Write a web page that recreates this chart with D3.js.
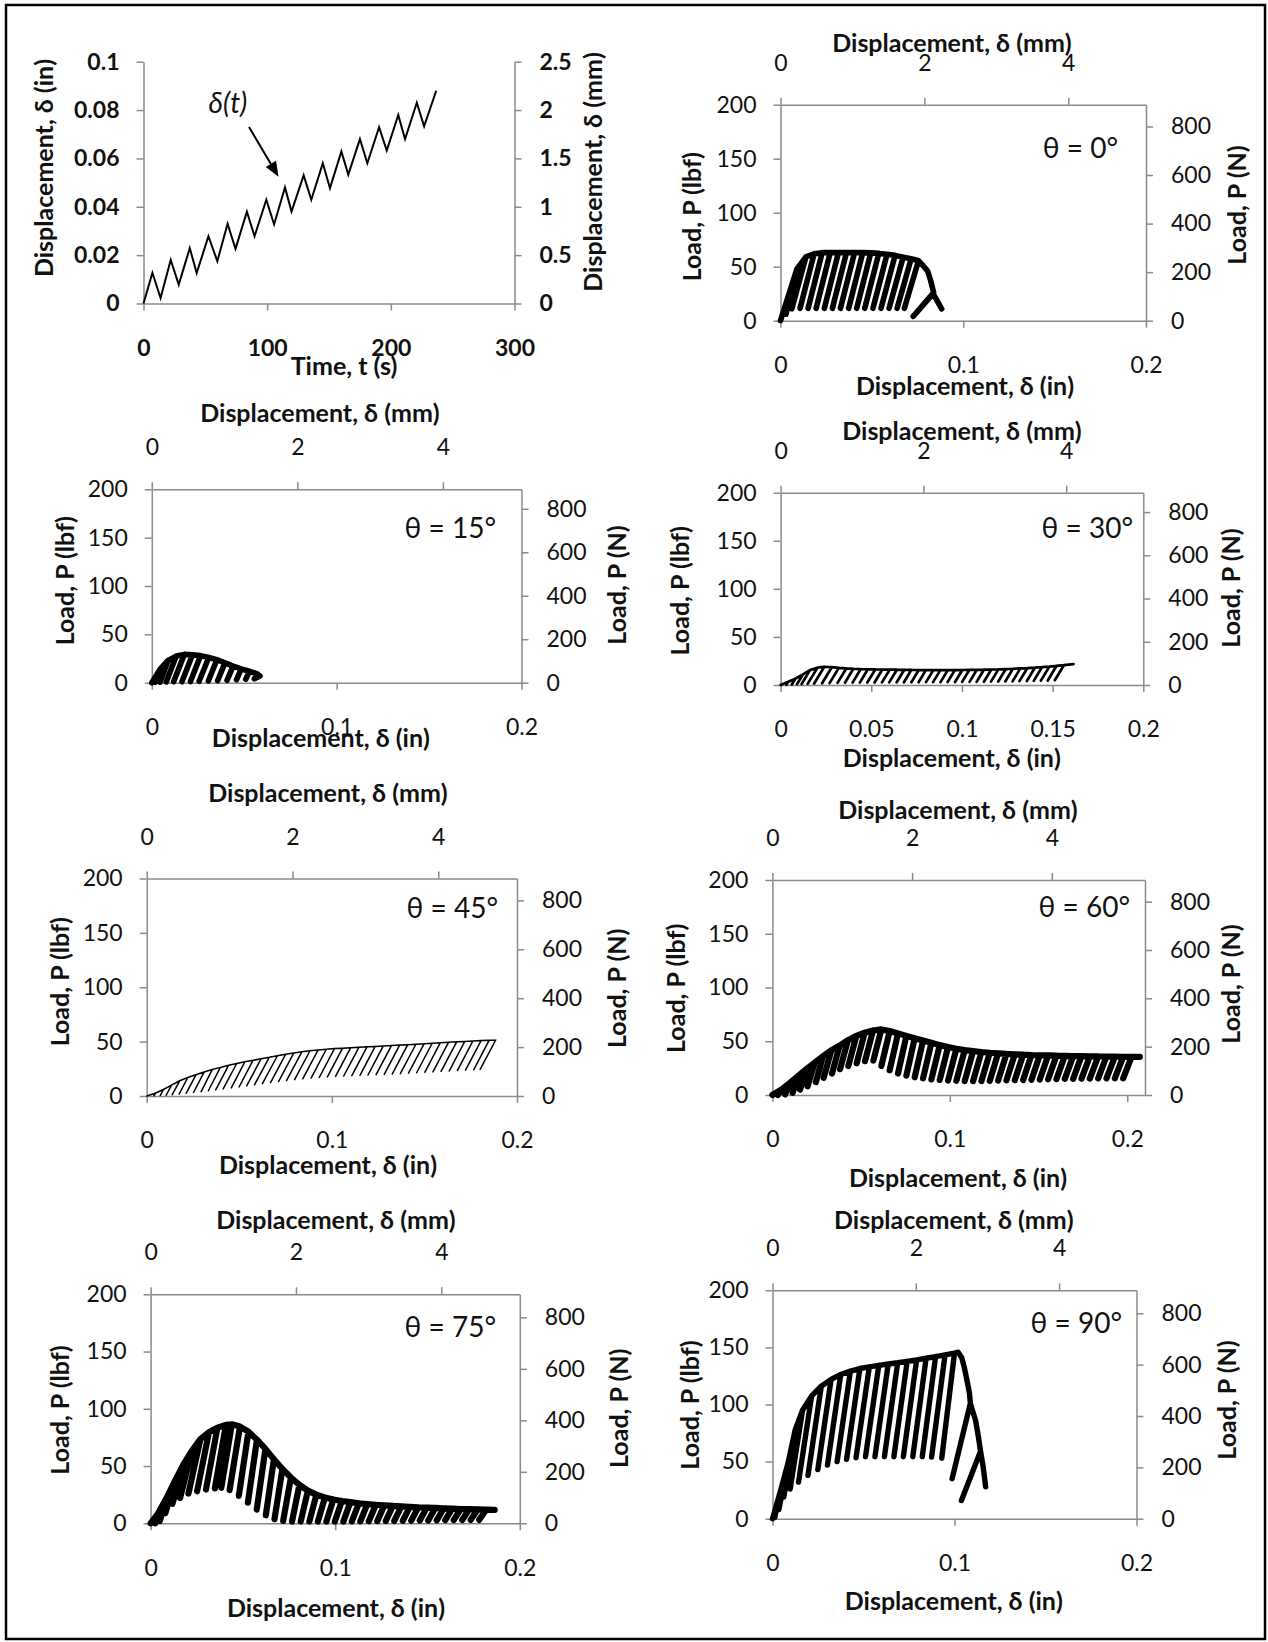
<!DOCTYPE html>
<html>
<head>
<meta charset="utf-8">
<script src="https://cdn.jsdelivr.net/npm/d3@7"></script>
<style>
  html, body { margin: 0; padding: 0; background: #fff; }
  svg { display: block; }
</style>
</head>
<body>
<svg id="fig" width="1268" height="1642"></svg>
<script>
// ---------------- data ----------------
// Displacement history of the actuator: time (s) and displacement (in)
const timeS  = [0, 7.2, 13.8, 22, 28.5, 37.4, 43, 52.5, 59.7, 68, 74.4, 83.6, 89.8, 99.3, 105.6, 114.4,
                119.7, 129.5, 135.7, 145, 150.8, 160, 165.6, 175, 181, 190.5, 196.7, 206, 211.5, 221, 226.9, 236.7];
const dispIn = [0, 0.0127, 0.0023, 0.018, 0.0078, 0.0229, 0.0126, 0.0278, 0.0175, 0.033, 0.0226, 0.038, 0.0278, 0.0429, 0.0327, 0.048,
                0.038, 0.053, 0.0429, 0.058, 0.0477, 0.0629, 0.0533, 0.068, 0.058, 0.0729, 0.0633, 0.078, 0.068, 0.083, 0.0733, 0.088];

// Load-displacement cycles, [displacement (in), load (lbf)]
// peaks: top of each loading cycle; lows: end of each unloading; tail: remaining path
const peaks0 = [[0.0090,48],[0.0139,59],[0.0184,62],[0.0228,63],[0.0272,63],[0.0317,63],[0.0361,63],[0.0405,63],
                [0.0450,63],[0.0494,62.8],[0.0538,62.3],[0.0583,61.5],[0.0627,60.5],[0.0671,58.8],[0.0715,57.3],[0.0755,55.5]];
const lows0  = [[0.0030,6],[0.0062,11],[0.0107,11.5],[0.0151,11.5],[0.0195,11.5],[0.0240,11.5],[0.0284,11.5],[0.0328,11.5],
                [0.0373,11.5],[0.0417,11.5],[0.0461,11.5],[0.0506,11.5],[0.0550,11.5],[0.0594,11.5],[0.0638,11.5],[0.0678,11.5]];
const tail0  = [[0.0785,50],[0.0805,46],[0.0822,37],[0.0838,26],[0.0726,4],[0.0835,25],[0.0882,11]];

const peaks15 = [[0.0045,14],[0.0088,23],[0.0132,27.5],[0.0176,29.3],[0.0220,28.8],[0.0264,28],[0.0308,26],[0.0352,23.8],
                 [0.0396,20.5],[0.0440,17.2],[0.0484,14.2],[0.0528,11.8]];
const lows15  = [[0.0018,0.5],[0.0044,0.5],[0.0078,0.8],[0.0118,1],[0.0163,1],[0.0209,1.2],[0.0256,1.5],[0.0306,1.8],
                 [0.0356,2],[0.0407,2.5],[0.0458,3],[0.0508,3.5]];
const tail15  = [[0.0572,9],[0.0555,4],[0.0585,7]];

const peaks30 = [[0.0042,3.5],[0.0081,6.5],[0.0123,11],[0.0162,15.5],[0.0203,18],[0.0241,19],[0.0282,18.5],[0.0321,17.8],
                 [0.0362,17.2],[0.0401,16.9],[0.0442,16.6],[0.0481,16.4],[0.0522,16.2],[0.0561,16.1],[0.0602,16],[0.0641,15.9],
                 [0.0682,15.8],[0.0721,15.7],[0.0762,15.6],[0.0801,15.5],[0.0842,15.5],[0.0881,15.5],[0.0922,15.5],[0.0961,15.5],
                 [0.1002,15.6],[0.1041,15.7],[0.1082,15.8],[0.1121,15.9],[0.1162,16.1],[0.1201,16.3],[0.1242,16.6],[0.1281,16.9],
                 [0.1322,17.3],[0.1361,17.6],[0.1402,18],[0.1441,18.5],[0.1482,19.1],[0.1521,19.8],[0.1562,20.6]];
const lows30  = [[0.0032,0.3],[0.0062,0.5],[0.0090,0.8],[0.0116,1],[0.0149,1.2],[0.0185,1.5],[0.0229,1.8],[0.0270,2],
                 [0.0314,2.2],[0.0355,2.4],[0.0397,2.5],[0.0437,2.5],[0.0478,2.6],[0.0518,2.6],[0.0559,2.7],[0.0599,2.7],
                 [0.0640,2.8],[0.0680,2.8],[0.0721,2.9],[0.0761,2.9],[0.0802,3],[0.0841,3],[0.0882,3],[0.0921,3.1],
                 [0.0962,3.1],[0.1001,3.2],[0.1042,3.2],[0.1081,3.3],[0.1121,3.4],[0.1160,3.5],[0.1200,3.6],[0.1239,3.7],
                 [0.1279,3.8],[0.1317,4],[0.1358,4.1],[0.1396,4.3],[0.1435,4.5],[0.1473,4.7],[0.1512,5]];
const tail30  = [[0.1615,21.7]];

const peaks45 = [[0.0046,2.5],[0.0090,6],[0.0134,10],[0.0178,14],[0.0222,17],[0.0266,19.5],[0.0310,22],[0.0354,24.3],
                 [0.0398,26.3],[0.0442,28.2],[0.0486,29.9],[0.0530,31.4],[0.0574,32.8],[0.0618,34.3],[0.0662,35.6],[0.0706,37],
                 [0.0750,38.3],[0.0794,39.5],[0.0838,40.6],[0.0882,41.6],[0.0926,42.4],[0.0970,43],[0.1014,43.6],[0.1058,44],
                 [0.1102,44.4],[0.1146,44.8],[0.1190,45.2],[0.1234,45.6],[0.1278,46],[0.1322,46.4],[0.1366,46.8],[0.1410,47.2],
                 [0.1454,47.6],[0.1498,48],[0.1542,48.5],[0.1586,49],[0.1630,49.4],[0.1674,49.8],[0.1718,50.2],[0.1762,50.6],
                 [0.1806,51],[0.1850,51.3],[0.1885,51.5]];
const lows45  = [[0.0039,0.2],[0.0073,0.4],[0.0105,0.7],[0.0138,1.2],[0.0175,1.8],[0.0213,2.5],[0.0253,3.2],[0.0294,4],
                 [0.0333,4.8],[0.0373,5.6],[0.0413,6.5],[0.0457,7.4],[0.0499,8.3],[0.0540,9.3],[0.0582,10.3],[0.0625,11.3],
                 [0.0669,12.3],[0.0712,13.3],[0.0755,14.2],[0.0799,15],[0.0843,15.8],[0.0888,16.5],[0.0932,17],[0.0976,17.5],
                 [0.1020,18],[0.1064,18.4],[0.1108,18.7],[0.1152,19],[0.1195,19.3],[0.1239,19.6],[0.1283,19.9],[0.1326,20.2],
                 [0.1370,20.6],[0.1414,21],[0.1458,21.4],[0.1502,21.8],[0.1546,22.2],[0.1590,22.6],[0.1634,23],[0.1678,23.4],
                 [0.1722,23.8],[0.1766,24.1],[0.1801,24.4]];
const tail45  = [];

const peaks60 = [[0.0050,5],[0.0097,11],[0.0144,17.5],[0.0191,24],[0.0238,30],[0.0285,36],[0.0332,41.5],[0.0379,46],
                 [0.0426,51],[0.0473,55],[0.0520,58],[0.0567,60],[0.0614,61],[0.0661,59.5],[0.0708,57.3],[0.0755,55],
                 [0.0802,52.8],[0.0849,50.6],[0.0896,48.5],[0.0943,46.4],[0.0990,44.6],[0.1037,43],[0.1084,41.8],[0.1131,40.8],
                 [0.1178,40],[0.1225,39.3],[0.1272,38.8],[0.1319,38.3],[0.1366,37.9],[0.1413,37.5],[0.1460,37.2],[0.1507,37],
                 [0.1554,36.8],[0.1601,36.6],[0.1648,36.4],[0.1695,36.2],[0.1742,36.1],[0.1789,36],[0.1836,35.9],[0.1883,35.8],
                 [0.1930,35.7],[0.1977,35.6],[0.2024,35.5]];
const lows60  = [[0.0030,0],[0.0072,0.5],[0.0114,2],[0.0156,5],[0.0198,8],[0.0245,12],[0.0289,16],[0.0336,20],
                 [0.0381,24],[0.0428,27],[0.0475,29.5],[0.0522,31.5],[0.0569,32],[0.0614,27],[0.0661,23],[0.0708,20],
                 [0.0755,18],[0.0802,16.5],[0.0849,15.5],[0.0896,14.5],[0.0943,14],[0.0990,13.5],[0.1037,13.2],[0.1084,13],
                 [0.1131,13],[0.1178,13],[0.1225,13.2],[0.1272,13.4],[0.1319,13.6],[0.1366,13.8],[0.1413,14],[0.1460,14.2],
                 [0.1507,14.4],[0.1554,14.6],[0.1601,14.8],[0.1648,15],[0.1695,15],[0.1742,15.2],[0.1789,15.2],[0.1836,15.4],
                 [0.1883,15.4],[0.1930,15.5],[0.1977,15.5]];
const tail60  = [[0.2071,35.5]];

const peaks75 = [[0.0040,8.5],[0.0086,22],[0.0132,37],[0.0178,51.5],[0.0224,63.5],[0.0270,73.5],[0.0316,79.5],[0.0362,83.5],
                 [0.0408,86],[0.0440,86.5],[0.0484,84.5],[0.0530,80],[0.0576,73],[0.0622,65],[0.0668,56],[0.0714,47.5],
                 [0.0760,40],[0.0806,33.5],[0.0852,28.5],[0.0898,25],[0.0944,22.5],[0.0990,20.8],[0.1036,19.5],[0.1082,18.5],
                 [0.1128,17.5],[0.1174,16.8],[0.1220,16.2],[0.1266,15.7],[0.1312,15.2],[0.1358,14.8],[0.1404,14.4],[0.1450,14],
                 [0.1496,13.7],[0.1542,13.4],[0.1588,13.1],[0.1634,12.8],[0.1680,12.5],[0.1726,12.3],[0.1772,12.1],[0.1818,11.9]];
const lows75  = [[0.0025,0],[0.0050,2],[0.0080,9],[0.0118,17],[0.0160,22],[0.0205,26],[0.0252,28],[0.0300,29.5],
                 [0.0348,30.5],[0.0383,31],[0.0428,29],[0.0478,24],[0.0527,18],[0.0575,12],[0.0624,7],[0.0671,3.5],
                 [0.0718,2],[0.0766,1.5],[0.0813,1.5],[0.0860,1.5],[0.0906,1.5],[0.0952,1.5],[0.0998,1.5],[0.1044,1.5],
                 [0.1090,1.6],[0.1136,1.7],[0.1182,1.8],[0.1228,1.9],[0.1274,2],[0.1320,2.1],[0.1366,2.2],[0.1412,2.3],
                 [0.1458,2.4],[0.1504,2.5],[0.1550,2.6],[0.1596,2.7],[0.1642,2.8],[0.1688,2.9],[0.1734,3],[0.1780,3]];
const tail75  = [[0.1864,11.7]];

const peaks90 = [[0.0045,25],[0.0085,48.5],[0.0125,78],[0.0165,95],[0.0215,107.5],[0.0268,116],[0.0322,122],[0.0375,126.3],
                 [0.0428,129.3],[0.0480,131.5],[0.0532,133],[0.0584,134.3],[0.0636,135.5],[0.0688,136.6],[0.0740,137.8],[0.0792,139],
                 [0.0844,140.5],[0.0896,142],[0.0948,143.5],[0.1000,145]];
const lows90  = [[0.0012,1],[0.0035,8],[0.0062,19],[0.0097,26],[0.0143,32],[0.0195,38],[0.0249,43],[0.0302,47],
                 [0.0355,50],[0.0407,52],[0.0459,53.4],[0.0511,54.3],[0.0563,54.3],[0.0615,54.3],[0.0667,54.3],[0.0719,54.3],
                 [0.0771,54.3],[0.0823,54.3],[0.0874,54],[0.0930,53]];
const tail90  = [[0.1020,145.8],[0.1040,141],[0.1053,133],[0.1070,120],[0.1082,110],[0.1087,101],[0.0987,35],[0.1087,101],
                 [0.1100,94],[0.1116,86],[0.1131,72],[0.1143,59],[0.1038,16],[0.1143,59],[0.1158,45],[0.1171,28]];

// tick values
const loadTicksLbf = [0, 50, 100, 150, 200];
const loadTicksN   = [0, 200, 400, 600, 800];
const dispTicksMm  = [0, 2, 4];
const timeTicks    = [0, 100, 200, 300];
const histTicksIn  = [0, 0.02, 0.04, 0.06, 0.08, 0.1];
const histTicksMm  = [0, 0.5, 1, 1.5, 2, 2.5];

// unit conversions
const LBF_TO_N = 4.44822;
const IN_TO_MM = 25.4;

// ---------------- drawing ----------------
const FONT = "Lato, 'Open Sans', sans-serif";
const AXIS = "#8a8a8a";
const INK = "#111";
const svg = d3.select("#fig");

svg.append("rect").attr("width", 1268).attr("height", 1642).attr("fill", "#fff");
svg.append("rect")
  .attr("x", 6).attr("y", 5).attr("width", 1259).attr("height", 1634)
  .attr("fill", "none").attr("stroke", "#000").attr("stroke-width", 2.5);

function styleAxis(g, size, weight) {
  g.attr("font-family", FONT).attr("font-size", size).attr("font-weight", weight);
  g.select(".domain").attr("stroke", AXIS).attr("stroke-width", 1.5);
  g.selectAll(".tick line").attr("stroke", AXIS).attr("stroke-width", 1.5);
  g.selectAll(".tick text").attr("fill", INK);
}

function hText(x, y, str, opts = {}) {
  return svg.append("text")
    .attr("x", x).attr("y", y).attr("dy", "0.35em")
    .attr("text-anchor", opts.anchor || "middle")
    .attr("font-family", FONT)
    .attr("font-size", opts.size || 25)
    .attr("font-weight", opts.weight || 700)
    .attr("font-style", opts.style || "normal")
    .attr("fill", INK)
    .text(str);
}

function vText(x, y, str, opts = {}) {
  return svg.append("text")
    .attr("transform", `translate(${x},${y}) rotate(-90)`)
    .attr("dy", "0.35em")
    .attr("text-anchor", "middle")
    .attr("font-family", FONT)
    .attr("font-size", opts.size || 25)
    .attr("font-weight", 700)
    .attr("fill", INK)
    .text(str);
}

const fmt = d => String(d);
const TICK = 7;

// ---- displacement history panel ----
(function () {
  const L = 143.5, R = 514.5, T = 61.7, B = 303.5;
  const x = d3.scaleLinear().domain([0, 300]).range([L, R]);
  const y = d3.scaleLinear().domain([0, 0.1]).range([B, T]);
  const yMm = d3.scaleLinear().domain([0, 2.5]).range([B, T]);

  const gx = svg.append("g").attr("transform", `translate(0,${B})`)
    .call(d3.axisBottom(x).tickValues(timeTicks).tickSize(TICK).tickSizeOuter(0).tickPadding(29).tickFormat(fmt));
  styleAxis(gx, 23, 700);
  const gl = svg.append("g").attr("transform", `translate(${L},0)`)
    .call(d3.axisLeft(y).tickValues(histTicksIn).tickSize(TICK).tickSizeOuter(0).tickPadding(17).tickFormat(fmt));
  styleAxis(gl, 23, 700);
  const gr = svg.append("g").attr("transform", `translate(${R},0)`)
    .call(d3.axisRight(yMm).tickValues(histTicksMm).tickSize(TICK).tickSizeOuter(0).tickPadding(18).tickFormat(fmt));
  styleAxis(gr, 23, 700);

  const pts = timeS.map((t, i) => [t, dispIn[i]]);
  svg.append("path")
    .attr("d", d3.line().x(d => x(d[0])).y(d => y(d[1]))(pts))
    .attr("fill", "none").attr("stroke", "#000").attr("stroke-width", 2)
    .attr("stroke-linejoin", "miter");

  // annotation
  hText(x(68.3), y(0.083), "δ(t)", { size: 28, weight: 400, style: "italic" });
  const a0 = [x(85.3), y(0.073)], a1 = [x(109.2), y(0.0524)];
  const ang = Math.atan2(a1[1] - a0[1], a1[0] - a0[0]);
  const hl = 15, hw = 6;
  const base = [a1[0] - hl * Math.cos(ang), a1[1] - hl * Math.sin(ang)];
  svg.append("line").attr("x1", a0[0]).attr("y1", a0[1]).attr("x2", base[0]).attr("y2", base[1])
    .attr("stroke", "#000").attr("stroke-width", 2);
  svg.append("path")
    .attr("d", `M${a1[0]},${a1[1]} L${base[0] - hw * Math.sin(ang)},${base[1] + hw * Math.cos(ang)} L${base[0] + hw * Math.sin(ang)},${base[1] - hw * Math.cos(ang)} Z`)
    .attr("fill", "#000");

  hText(344, 366.7, "Time, t (s)");
  vText(44.5, 168, "Displacement, δ (in)");
  vText(593, 172, "Displacement, δ (mm)");
})();

// ---- load-displacement panels ----
const loadPanels = [
  { label: "θ = 0°",  peaks: peaks0,  lows: lows0,  tail: tail0,  lw: 5.6,
    L: 780.5, R: 1146, T: 104.7, B: 320.7, xMax: 0.2, xTicks: [0, 0.1, 0.2],
    tTop: [952, 43.3], tBottom: [965, 386.7], tLeft: [692.7, 216.7], tRight: [1237, 205], tTheta: [1118, 148.3] },
  { label: "θ = 15°", peaks: peaks15, lows: lows15, tail: tail15, lw: 5.6,
    L: 151.8, R: 521.5, T: 489.3, B: 682.7, xMax: 0.2, xTicks: [0, 0.1, 0.2],
    tTop: [320, 413.3], tBottom: [320.9, 738.3], tLeft: [64.8, 580.7], tRight: [617.4, 585], tTheta: [496, 528.3] },
  { label: "θ = 30°", peaks: peaks30, lows: lows30, tail: tail30, lw: 2.7,
    L: 780.6, R: 1143.3, T: 492.7, B: 685, xMax: 0.2, xTicks: [0, 0.05, 0.1, 0.15, 0.2],
    tTop: [962, 431.7], tBottom: [951.8, 758.3], tLeft: [680.6, 590.8], tRight: [1231, 588], tTheta: [1133, 528.3] },
  { label: "θ = 45°", peaks: peaks45, lows: lows45, tail: tail45, lw: 1.5,
    L: 146.7, R: 517, T: 878.5, B: 1096, xMax: 0.2, xTicks: [0, 0.1, 0.2],
    tTop: [328, 793.3], tBottom: [328, 1165], tLeft: [60.7, 981.7], tRight: [617.4, 988.3], tTheta: [498, 908.3] },
  { label: "θ = 60°", peaks: peaks60, lows: lows60, tail: tail60, lw: 6.2,
    L: 772.4, R: 1145, T: 880, B: 1095, xMax: 0.21, xTicks: [0, 0.1, 0.2],
    tTop: [958, 810], tBottom: [958, 1178], tLeft: [676.5, 988.3], tRight: [1231, 984], tTheta: [1130, 906.7] },
  { label: "θ = 75°", peaks: peaks75, lows: lows75, tail: tail75, lw: 6.2,
    L: 150.6, R: 519.8, T: 1294.3, B: 1523.3, xMax: 0.2, xTicks: [0, 0.1, 0.2],
    tTop: [336, 1220], tBottom: [336, 1608.3], tLeft: [60.7, 1410], tRight: [619.4, 1408.3], tTheta: [496, 1326.7] },
  { label: "θ = 90°", peaks: peaks90, lows: lows90, tail: tail90, lw: 5.4,
    L: 772.5, R: 1136.5, T: 1290.3, B: 1518.7, xMax: 0.2, xTicks: [0, 0.1, 0.2],
    tTop: [953.8, 1220], tBottom: [953.8, 1601.7], tLeft: [690.7, 1405], tRight: [1227, 1400], tTheta: [1122, 1323] }
];

function cyclePath(peaks, lows, tail) {
  // load to each peak, unload to its low point, reload back to the same peak
  const pts = [[0, 0]];
  peaks.forEach((pk, i) => { pts.push(pk, lows[i], pk); });
  return pts.concat(tail);
}

loadPanels.forEach(p => {
  const x = d3.scaleLinear().domain([0, p.xMax]).range([p.L, p.R]);
  const y = d3.scaleLinear().domain([0, 200]).range([p.B, p.T]);
  const xMm = d3.scaleLinear().domain([0, p.xMax * IN_TO_MM]).range([p.L, p.R]);
  const yN = d3.scaleLinear().domain([0, 200 * LBF_TO_N]).range([p.B, p.T]);

  const gb = svg.append("g").attr("transform", `translate(0,${p.B})`)
    .call(d3.axisBottom(x).tickValues(p.xTicks).tickSize(TICK).tickSizeOuter(0).tickPadding(29).tickFormat(fmt));
  styleAxis(gb, 23, 400);
  const gt = svg.append("g").attr("transform", `translate(0,${p.T})`)
    .call(d3.axisTop(xMm).tickValues(dispTicksMm).tickSize(TICK).tickSizeOuter(0).tickPadding(27).tickFormat(fmt));
  styleAxis(gt, 23, 400);
  const gl = svg.append("g").attr("transform", `translate(${p.L},0)`)
    .call(d3.axisLeft(y).tickValues(loadTicksLbf).tickSize(TICK).tickSizeOuter(0).tickPadding(17).tickFormat(fmt));
  styleAxis(gl, 23, 400);
  const gr = svg.append("g").attr("transform", `translate(${p.R},0)`)
    .call(d3.axisRight(yN).tickValues(loadTicksN).tickSize(TICK).tickSizeOuter(0).tickPadding(18).tickFormat(fmt));
  styleAxis(gr, 23, 400);

  svg.append("path")
    .attr("d", d3.line().x(d => x(d[0])).y(d => y(d[1]))(cyclePath(p.peaks, p.lows, p.tail)))
    .attr("fill", "none").attr("stroke", "#000")
    .attr("stroke-width", p.lw)
    .attr("stroke-linejoin", "round").attr("stroke-linecap", "round");

  hText(p.tTheta[0], p.tTheta[1], p.label, { size: 28, weight: 400, anchor: "end" });
  hText(p.tTop[0], p.tTop[1], "Displacement, δ (mm)");
  hText(p.tBottom[0], p.tBottom[1], "Displacement, δ (in)");
  vText(p.tLeft[0], p.tLeft[1], "Load, P (lbf)");
  vText(p.tRight[0], p.tRight[1], "Load, P (N)");
});
</script>
</body>
</html>
